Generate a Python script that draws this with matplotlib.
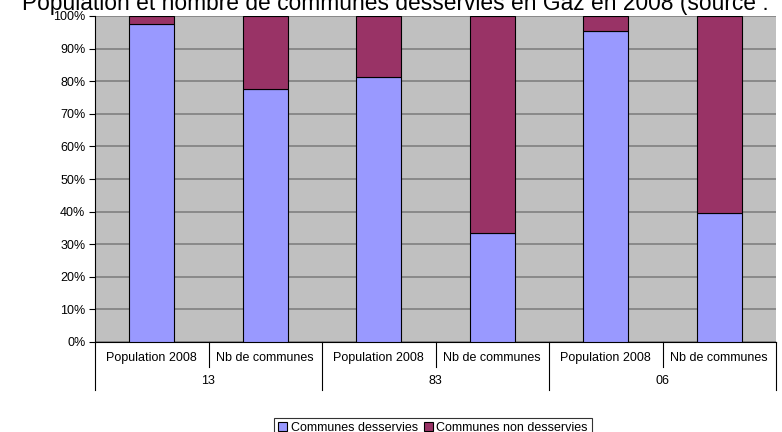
import matplotlib.pyplot as plt
import numpy as np

plt.rcParams['font.family'] = ['Liberation Sans', 'DejaVu Sans']

# données (en %)
departements = ['13', '83', '06']
sous_cat = ['Population 2008', 'Nb de communes']
desservies = [97.5, 77.6, 81.3, 33.4, 95.4, 39.6]
non_desservies = [100 - v for v in desservies]

fig = plt.figure(figsize=(7.82, 4.32), dpi=100)
ax = fig.add_axes([95 / 782, 1 - 342 / 432, 681 / 782, 326 / 432])
ax.set_facecolor('#C0C0C0')

x = np.arange(len(desservies))
b1 = ax.bar(x, desservies, width=0.4, color='#9999FF', edgecolor='black', linewidth=0.8,
            label='Communes desservies', zorder=3)
b2 = ax.bar(x, non_desservies, width=0.4, bottom=desservies, color='#993366', edgecolor='black',
            linewidth=0.8, label='Communes non desservies', zorder=3)

ax.set_xlim(-0.5, len(desservies) - 0.5)
ax.set_ylim(0, 100)
ax.set_yticks(np.arange(0, 101, 10))
ax.set_yticklabels([f'{v}%' for v in range(0, 101, 10)], fontsize=9)
ax.tick_params(axis='y', length=4, width=0.8, pad=3)
ax.yaxis.grid(True, color='#808080', linewidth=1.2, zorder=1)
ax.set_axisbelow(True)
ax.set_xticks([])
for s in ['top', 'right']:
    ax.spines[s].set_visible(False)
ax.spines['bottom'].set_linewidth(0.8)
ax.spines['left'].set_linewidth(0.8)

# étiquettes de catégories à deux niveaux
tr = ax.get_xaxis_transform()
for i in range(len(desservies)):
    ax.text(i, -0.05, sous_cat[i % 2], transform=tr, ha='center', va='center', fontsize=9)
for j, d in enumerate(departements):
    ax.text(2 * j + 0.5, -0.12, d, transform=tr, ha='center', va='center', fontsize=9)
for k in range(len(desservies) + 1):
    bas = -0.147 if k % 2 == 0 else -0.077
    ax.plot([k - 0.5, k - 0.5], [0, bas], transform=tr, color='black', linewidth=0.8, clip_on=False)

fig.text(22 / 782, 1 - 10 / 432, 'Population et nombre de communes desservies en Gaz en 2008 (source :',
         fontsize=16.4, ha='left', va='baseline')

leg = fig.legend(handles=[b1, b2], loc='upper center', bbox_to_anchor=(433 / 782, 1 - 418 / 432),
                 ncol=2, fontsize=9, frameon=True, fancybox=False, edgecolor='black',
                 handlelength=0.7, handleheight=0.7, handletextpad=0.3, columnspacing=0.5,
                 borderpad=0.3, borderaxespad=0)
leg.get_frame().set_linewidth(0.8)

fig.savefig('out.png', dpi=100)
